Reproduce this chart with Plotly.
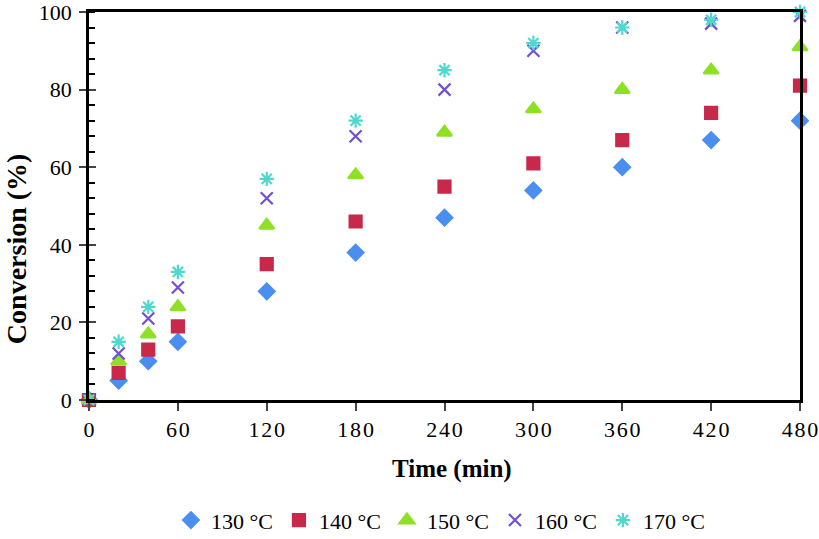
import plotly.graph_objects as go

time_min = [0, 20, 40, 60, 120, 180, 240, 300, 360, 420, 480]
series_names = ["130 °C", "140 °C", "150 °C", "160 °C", "170 °C"]
conv_130 = [0, 5, 10, 15, 28, 38, 47, 54, 60, 67, 72]
conv_140 = [0, 7, 13, 19, 35, 46, 55, 61, 67, 74, 81]
conv_150 = [0, 10, 17, 24, 45, 58, 69, 75, 80, 85, 91]
conv_160 = [0, 12, 21, 29, 52, 68, 80, 90, 96, 97, 99]
conv_170 = [0, 15, 24, 33, 57, 72, 85, 92, 96, 98, 100]
x_ticks = [0, 60, 120, 180, 240, 300, 360, 420, 480]
y_ticks = [0, 20, 40, 60, 80, 100]
x_title = "Time (min)"
y_title = "Conversion (%)"

values = [conv_130, conv_140, conv_150, conv_160, conv_170]
colors = ["#4a8ff0", "#c8294a", "#8ee024", "#7050d0", "#50d8d0"]
symbols = ["diamond", "square", "triangle-up", "x-thin-open", "asterisk-open"]
sizes = [12, 12, 13, 12, 12]

fig = go.Figure()
for name, vals, c, s, sz in zip(series_names, values, colors, symbols, sizes):
    fig.add_trace(go.Scatter(
        x=time_min, y=vals, mode="markers", name=name,
        marker=dict(symbol=s, color=c, size=sz, line=dict(color=c, width=2.2)),
        cliponaxis=False,
    ))
# invisible trace for overlay axis (crossing major ticks)
fig.add_trace(go.Scatter(x=[0], y=[0], yaxis="y2", mode="markers",
                         marker=dict(opacity=0), showlegend=False, hoverinfo="skip"))

font_family = "Liberation Serif, Times New Roman, serif"
x_ticktext = ["\u200a".join(str(v)) for v in x_ticks]

fig.update_layout(
    width=819, height=539,
    margin=dict(l=89, r=19, t=12, b=139, autoexpand=False),
    paper_bgcolor="white", plot_bgcolor="white",
    font=dict(family=font_family, size=22, color="black"),
    showlegend=True,
    legend=dict(orientation="h", x=0.495, xanchor="center", y=-0.31, yanchor="middle",
                font=dict(size=22, family=font_family), itemwidth=30,
                tracegroupgap=0, entrywidthmode="pixels", entrywidth=63),
    xaxis=dict(range=[0, 480], tickvals=x_ticks, ticktext=x_ticktext, ticks="outside",
               ticklen=8, tickwidth=2, ticklabeloverflow="allow",
               showline=True, linecolor="black", linewidth=2.5, mirror=True,
               showgrid=False, zeroline=False, tickfont=dict(size=22)),
    yaxis=dict(range=[0, 100], tickvals=y_ticks, ticks="outside", ticklen=7, tickwidth=2,
               ticklabeloverflow="allow", ticklabelstandoff=3,
               showline=True, linecolor="black", linewidth=2.5, mirror=True,
               showgrid=False, zeroline=False,
               minor=dict(dtick=4, ticks="inside", ticklen=6, tickwidth=2, tickcolor="black", showgrid=False),
               tickfont=dict(size=22)),
    yaxis2=dict(range=[0, 100], tickvals=y_ticks, ticks="inside", ticklen=7, tickwidth=2,
                overlaying="y", side="left", showticklabels=False, showgrid=False,
                zeroline=False, showline=False),
    annotations=[
        dict(text="<b>" + x_title + "</b>", xref="paper", yref="paper",
             x=0.51, y=-0.178, xanchor="center", yanchor="middle", showarrow=False,
             font=dict(size=25)),
        dict(text="<b>" + y_title + "</b>", xref="paper", yref="paper", textangle=-90,
             x=-0.102, y=0.39, xanchor="center", yanchor="middle", showarrow=False,
             font=dict(size=28)),
    ],
)
fig.write_html("out.html", config={"displayModeBar": False},
               post_script="document.body.style.margin='0';")
